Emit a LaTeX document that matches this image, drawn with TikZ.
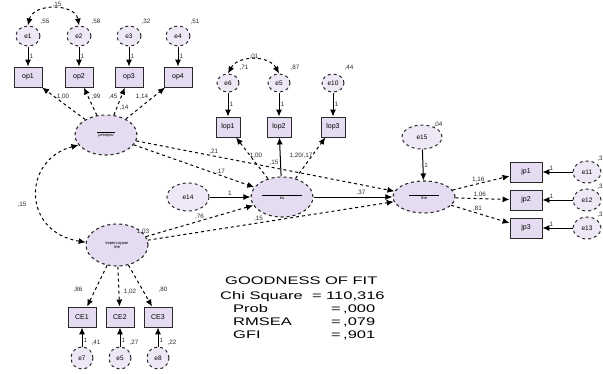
\documentclass[tikz,border=0pt]{standalone}
\usepackage{fontspec}
\setmainfont{Liberation Sans}
\newfontfamily\goffont[FakeStretch=1.5]{Liberation Sans}
\usetikzlibrary{shapes.geometric,arrows.meta}
\definecolor{lav}{HTML}{E6DCF2}
\definecolor{lavl}{HTML}{EEE8F6}
\definecolor{ink}{HTML}{2A2A2A}
\tikzset{
  lat/.style={ellipse,draw=ink,dashed,line width=1.1pt,fill=lav,inner sep=0pt,font=\fontsize{4}{4}\selectfont,align=center},
  err/.style={ellipse,draw=ink,dashed,line width=1pt,fill=lavl,inner sep=0pt,font=\fontsize{6.5}{6.5}\selectfont},
  obs/.style={rectangle,draw=ink,line width=0.9pt,fill=lav,inner sep=0pt,minimum height=20pt,font=\fontsize{7}{7}\selectfont},
  lbl/.style={font=\fontsize{6.3}{6.5}\selectfont,inner sep=1pt,text=ink},
  arr/.style={-{Latex[length=7pt,width=6pt]},line width=1pt,draw=black},
  darr/.style={arr,dashed},
  cov/.style={{Latex[length=7pt,width=6pt]}-{Latex[length=7pt,width=6pt]},line width=1pt,dashed},
  gof/.style={anchor=base west,inner sep=0pt,font=\goffont\fontsize{11}{11}\selectfont}
}
\begin{document}
\begin{tikzpicture}[x=1pt,y=-1pt]
\useasboundingbox (0,0) rectangle (603,373);
% top-left indicators
\foreach \i/\x/\v in {1/28/{,55},2/79/{,58},3/129/{,32},4/178/{,51}}{
  \node[err,minimum width=24pt,minimum height=20pt] (e\i) at (\x,36) {e\i};
  \node[obs,minimum width=28pt] (op\i) at (\x,77) {op\i};
  \draw[arr] (e\i) -- node[lbl,right]{1} (op\i);
  \node[lbl] at (\x+17,22) {\v};
}
\node[lat,minimum width=62pt,minimum height=40pt] (L1) at (106,135) {\rule{18pt}{0.3pt}\\persepsi};
\draw[darr] (L1) -- (op1);
\draw[darr] (L1) -- (op2);
\draw[darr] (L1) -- (op3);
\draw[darr] (L1) -- (op4);
\node[lbl] at (63,97) {1,00};
\node[lbl] at (96,97) {,99};
\node[lbl] at (113,97) {,45};
\node[lbl] at (142,97) {1,14};
\node[lbl] at (124,108) {,14};
\draw[cov] (e1.north) .. controls (33,3) and (75,3) .. (e2.north);
\node[lbl] at (57,5) {,15};
% bottom-left latent
\node[lat,minimum width=62pt,minimum height=42pt] (L2) at (117,245) {kepercayaan\\line};
\node[lbl] at (143,232) {1,03};
\draw[cov] (L1.200) .. controls (22,160) and (22,232) .. (L2.175);
\node[lbl] at (22,205) {,15};
\foreach \i/\x/\n/\v in {1/82/7/{,41},2/120/5/{,27},3/158/8/{,22}}{
  \node[obs,minimum width=28pt] (ce\i) at (\x,317) {CE\i};
  \node[err,minimum width=22pt,minimum height=22pt] (p\i) at (\x,358) {e\n};
  \draw[arr] (p\i) -- node[lbl,right,pos=0.3]{1} (ce\i);
  \node[lbl] at (\x+14,343) {\v};
}
\draw[darr] (L2) -- (ce1);
\draw[darr] (L2) -- (ce2);
\draw[darr] (L2) -- (ce3);
\node[lbl] at (78,290) {,86};
\node[lbl] at (130,292) {1,02};
\node[lbl] at (163,290) {,80};
% central latent
\node[lat,minimum width=62pt,minimum height=40pt] (C) at (282,197) {\rule{40pt}{0.3pt}\\ko};
\node[err,minimum width=42pt,minimum height=28pt] (e14) at (188,197) {e14};
\draw[arr] (e14) -- node[lbl,above]{1} (C);
\foreach \i/\x/\n/\v in {1/228/6/{,71},2/279/5/{,87},3/333/10/{,44}}{
  \node[err,minimum width=22pt,minimum height=18pt] (ee\i) at (\x,83) {e\n};
  \node[obs,minimum width=24pt] (lop\i) at (\x,127) {lop\i};
  \draw[arr] (ee\i) -- node[lbl,right]{1} (lop\i);
  \node[lbl] at (\x+16,68) {\v};
}
\draw[darr] (C) -- (lop1);
\draw[arr] (C) -- (lop2);
\draw[darr] (C) -- (lop3);
\node[lbl] at (256,156) {1,00};
\node[lbl] at (274,163) {,15};
\node[lbl] at (301,156) {1,20/,17};
\draw[cov] (ee1.north) .. controls (238,55) and (269,55) .. (ee2.north);
\node[lbl] at (254,57) {,01};
% outcome latent
\node[lat,minimum width=62pt,minimum height=32pt] (O) at (424,197) {\rule{30pt}{0.3pt}\\line};
\node[err,minimum width=40pt,minimum height=24pt] (e15) at (422,137) {e15};
\node[lbl] at (438,125) {,04};
\draw[arr] (e15) -- node[lbl,right]{1} (O);
\draw[arr] (C) -- node[lbl,above,pos=0.6]{,37} (O);
% structural paths
\draw[darr] (L1) -- node[lbl,above,pos=0.72]{,17} (C);
\draw[darr] (L1) -- node[lbl,above,pos=0.3]{,21} (O);
\draw[darr] (L2) -- node[lbl,above,pos=0.5]{,76} (C);
\draw[darr] (L2) -- node[lbl,above,pos=0.45]{,15} (O);
% right indicators
\foreach \i/\y/\n in {1/172/11,2/200/12,3/228/13}{
  \node[obs,minimum width=32pt] (jp\i) at (526,\y) {jp\i};
  \node[err,minimum width=28pt,minimum height=22pt] (ez\i) at (587,\y) {e\n};
  \draw[arr] (ez\i) -- node[lbl,above,pos=0.7]{1} (jp\i);
  \node[lbl] at (600,\y-13) {,3};
}
\draw[darr] (O) -- node[lbl,above,pos=0.45]{1,16} (jp1);
\draw[darr] (O) -- node[lbl,above,pos=0.45]{1,06} (jp2);
\draw[darr] (O) -- node[lbl,above,pos=0.45]{,81} (jp3);
% goodness of fit
\node[gof] (g0) at (225,284) {GOODNESS OF FIT};
\node[gof] (g1) at (220,299) {Chi Square};
\node[gof] (g1e) at (312,299) {=};
\node[gof] (g1v) at (326,299) {110,316};
\node[gof] (g2) at (233,312) {Prob};
\node[gof] (g2e) at (331,312) {=};
\node[gof] (g2v) at (343,312) {,000};
\node[gof] (g3) at (233,325) {RMSEA};
\node[gof] (g3e) at (331,325) {=};
\node[gof] (g3v) at (343,325) {,079};
\node[gof] (g4) at (233,338) {GFI};
\node[gof] (g4e) at (331,338) {=};
\node[gof] (g4v) at (343,338) {,901};
\end{tikzpicture}
\end{document}
